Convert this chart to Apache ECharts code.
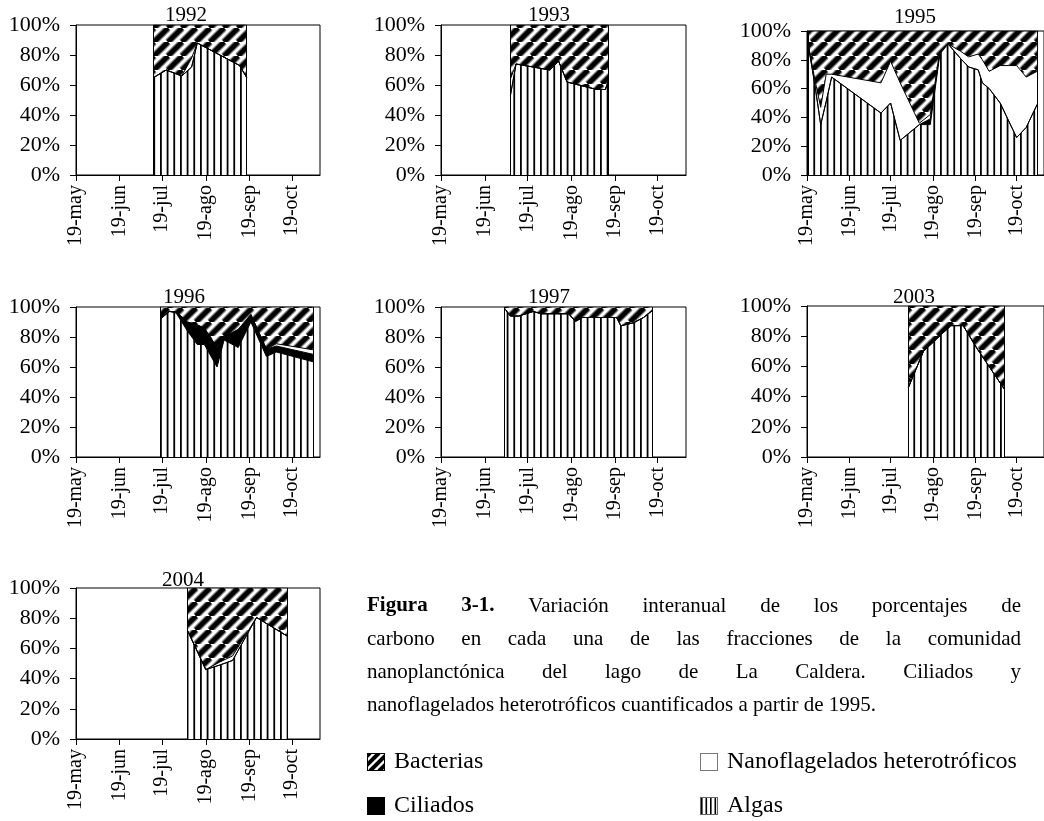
<!DOCTYPE html>
<html><head><meta charset="utf-8">
<script src="https://cdn.jsdelivr.net/npm/echarts@6/dist/echarts.min.js"></script>
<style>html,body{margin:0;padding:0;background:#fff}#c{width:1044px;height:821px}</style>
</head><body><div id="c"></div><script>
const FONT = '"Liberation Serif", "Times New Roman", serif';
const MONTHS = ['ene','feb','mar','abr','may','jun','jul','ago','sep','oct','nov','dic'];
const TICK_LABELS = ['19-may','19-jun','19-jul','19-ago','19-sep','19-oct'];
const AXIS_END = '11-08';
const NAMES = ['Algas','Ciliados','Nanoflagelados heterotróficos','Bacterias'];

// ---- data (percent of carbon) ----
const dates1992 = ['1992-07-13','1992-07-22','1992-08-02','1992-08-09','1992-08-13','1992-09-12','1992-09-17'];
const algas1992 = [65,70,66,72,88,73,65];
const cil1992   = [0,0,0,0,0,0,0];
const nano1992  = [0,0,0,6,0,0,0];
const bact1992  = [35,30,34,22,12,27,35];

const dates1993 = ['1993-07-07','1993-07-11','1993-08-04','1993-08-10','1993-08-16','1993-09-06','1993-09-12','1993-09-14'];
const algas1993 = [53,74,70,76,62,57,57,62];
const cil1993   = [0,0,0,0,0,0,0,0];
const nano1993  = [11,0,0,0,0,0,0,0];
const bact1993  = [36,26,30,24,38,43,43,38];

const dates1995 = ['1995-05-20','1995-05-25','1995-05-29','1995-06-02','1995-06-06','1995-07-12','1995-07-19','1995-07-26','1995-08-09','1995-08-17','1995-08-24','1995-08-30','1995-09-08','1995-09-14','1995-09-21','1995-09-24','1995-09-29','1995-10-07','1995-10-13','1995-10-19','1995-10-26','1995-11-03'];
const algas1995 = [90,61,35,51,68,43,50,24,35,35,84,91,81,75,73,64,60,50,38,26,33,49];
const cil1995   = [0,0,0,0,0,0,0,0,0,4,2,0,0,0,0,0,0,0,0,0,0,0];
const nano1995  = [0,4,12,19,2,21,29,40,1,3,0,0,5,7,11,16,12,26,38,50,35,23];
const bact1995  = [10,35,53,30,30,36,21,36,64,58,14,9,14,18,16,20,28,24,24,24,32,28];

const dates1996 = ['1996-07-18','1996-07-24','1996-07-29','1996-08-06','1996-08-13','1996-08-18','1996-08-27','1996-09-01','1996-09-11','1996-09-20','1996-10-01','1996-10-08','1996-11-03'];
const algas1996 = [92,97,96,84,75,75,60,78,73,90,67,70,63.5];
const cil1996   = [0,0,1,6,13,11,13,2,12,5,5,4,5];
const nano1996  = [0,0,0,0,0,0,0,0,0,0,0,1.5,3];
const bact1996  = [8,3,3,10,12,14,27,20,15,5,28,24.5,28.5];

const dates1997 = ['1997-07-03','1997-07-07','1997-07-13','1997-07-23','1997-07-29','1997-08-17','1997-08-22','1997-08-27','1997-09-20','1997-09-23','1997-10-02','1997-10-09','1997-10-15'];
const algas1997 = [99,94,94,97,95.5,95.5,90.5,93,93,87.5,89.5,93,97.5];
const cil1997   = [0,0,0,0,0,0,0,0,0,0,0,0,0];
const nano1997  = [0,0,0,0,0,0,0,0,0,0,0,0,0];
const bact1997  = [1,6,6,3,4.5,4.5,9.5,7,7,12.5,10.5,7,2.5];

const dates2003 = ['2003-08-01','2003-08-12','2003-09-01','2003-09-10','2003-09-20','2003-10-10'];
const algas2003 = [46,70,87,87,72,45];
const cil2003   = [0,0,0,0,0,0];
const nano2003  = [0,0,0,0,0,0];
const bact2003  = [54,30,13,13,28,55];

const dates2004 = ['2004-08-06','2004-08-19','2004-08-29','2004-09-07','2004-09-24','2004-10-16'];
const algas2004 = [72,46,49,52,80.5,68];
const cil2004   = [0,0,0,0,0,0];
const nano2004  = [0,0,2,3,0,0];
const bact2004  = [28,54,49,45,19.5,32];

const CAPTION_LINES = [
  'Figura 3-1. Variación interanual de los porcentajes de',
  'carbono en cada una de las fracciones de la comunidad',
  'nanoplanctónica del lago de La Caldera. Ciliados y',
  'nanoflagelados heterotróficos cuantificados a partir de 1995.'
];
const CAPTION_BOLD_WORDS = 2;
const LEGEND_ITEMS = ['Bacterias','Nanoflagelados heterotróficos','Ciliados','Algas'];

// ---- layout ----
const PANELS = [
  {year:1992, d:[dates1992,algas1992,cil1992,nano1992,bact1992], left:76,  top:25,  width:244, height:150},
  {year:1993, d:[dates1993,algas1993,cil1993,nano1993,bact1993], left:441, top:25,  width:245, height:150},
  {year:1995, d:[dates1995,algas1995,cil1995,nano1995,bact1995], left:807, top:31,  width:244, height:144},
  {year:1996, d:[dates1996,algas1996,cil1996,nano1996,bact1996], left:76,  top:307, width:244, height:150},
  {year:1997, d:[dates1997,algas1997,cil1997,nano1997,bact1997], left:441, top:307, width:245, height:150},
  {year:2003, d:[dates2003,algas2003,cil2003,nano2003,bact2003], left:807, top:306, width:244, height:151},
  {year:2004, d:[dates2004,algas2004,cil2004,nano2004,bact2004], left:76,  top:588, width:244, height:151}
];
const TITLE_POS = [[186,15],[549,15],[915,17],[184,297],[549,297],[914,297],[183,580]];

// ---- patterns ----
function hatchCanvas(size, lw) {
  const c = document.createElement('canvas'); c.width = size; c.height = size;
  const g = c.getContext('2d');
  g.fillStyle = '#fff'; g.fillRect(0,0,size,size);
  g.lineCap = 'butt';
  for (const [col, w] of [['#777', lw+2.5], ['#000', lw]]) {
    g.strokeStyle = col; g.lineWidth = w;
    for (const k of [-size, 0, size]) { g.beginPath(); g.moveTo(k, size); g.lineTo(k+size, 0); g.stroke(); }
  }
  return c;
}
function vlinesCanvas() {
  const c = document.createElement('canvas'); c.width = 20; c.height = 4;
  const g = c.getContext('2d');
  g.fillStyle = '#fff'; g.fillRect(0,0,20,4);
  g.fillStyle = '#000';
  for (const x of [0, 20/3, 40/3]) g.fillRect(x, 0, 1.8, 4);
  return c;
}
const patD = {image: hatchCanvas(14, 4.5), repeat: 'repeat'};
const patV = {image: vlinesCanvas(), repeat: 'repeat'};
const FILLS = [patV, '#000', '#fff', patD];

// day number since 19-May of the panel's year (x-axis scale value)
function dayOf(year, iso) {
  const [y, m, d] = iso.split('-').map(Number);
  return (Date.UTC(y, m-1, d) - Date.UTC(year, 4, 19)) / 86400000;
}
function tickIso(year, lab) {
  const [dd, mm] = lab.split('-');
  return year + '-' + String(MONTHS.indexOf(mm) + 1).padStart(2,'0') + '-' + dd;
}

const grids = [], xAxes = [], yAxes = [], series = [], graphics = [];
PANELS.forEach((p, i) => {
  grids.push({left:p.left, top:p.top, width:p.width, height:p.height, show:true, borderColor:'#000', borderWidth:1, backgroundColor:'transparent'});
  const ticks = TICK_LABELS.map(l => dayOf(p.year, tickIso(p.year, l)));
  xAxes.push({
    type:'value', gridIndex:i, min: 0, max: dayOf(p.year, p.year + '-' + AXIS_END),
    axisLine:{show:true, onZero:false, lineStyle:{color:'#000', width:1}},
    axisTick:{show:true, length:6, lineStyle:{color:'#000'}, customValues: ticks},
    axisLabel:{show:true, customValues: ticks, rotate:90, margin:10, color:'#000', fontFamily:FONT, fontSize:20,
      formatter: v => { const k = ticks.indexOf(v); return k >= 0 ? TICK_LABELS[k] : ''; }},
    splitLine:{show:false}, minorTick:{show:false}
  });
  yAxes.push({
    type:'value', gridIndex:i, min:0, max:100, interval:20,
    axisLine:{show:true, lineStyle:{color:'#000', width:1}},
    axisTick:{show:true, length:6, lineStyle:{color:'#000'}},
    axisLabel:{formatter:'{value}%', margin:16, color:'#000', fontFamily:FONT, fontSize:22},
    splitLine:{show:false}
  });
  const xs = p.d[0].map(dt => dayOf(p.year, dt));
  NAMES.forEach((name, k) => {
    const vals = p.d[k+1];
    const s = {
      type:'line', name, xAxisIndex:i, yAxisIndex:i, stack:'st'+i,
      // percentage first so that the stack is computed on the y dimension
      data: xs.map((x, j) => [vals[j], x]),
      encode: {x: 1, y: 0},
      symbol:'none', showSymbol:false, silent:true, animation:false,
      lineStyle:{color:'#000', width:1}, areaStyle:{color:FILLS[k], opacity:1}
    };
    if (k === 3) {
      s.markLine = {silent:true, symbol:['none','none'], animation:false, label:{show:false},
        lineStyle:{color:'#000', width:1, type:'solid'},
        data:[{xAxis: xs[0]}, {xAxis: xs[xs.length-1]}]};
    }
    series.push(s);
  });
  graphics.push({type:'text', x:TITLE_POS[i][0], y:TITLE_POS[i][1], z:100,
    style:{text:String(p.year), font:'21px ' + FONT, fill:'#000', align:'center', verticalAlign:'middle'}});
});

// ---- caption (justified) ----
const mctx = document.createElement('canvas').getContext('2d');
const CAP_L = 367, CAP_R = 1021, CAP_Y0 = 606, CAP_DY = 33, CAP_FS = 21, LEG_FS = 24;
let wordIdx = 0;
CAPTION_LINES.forEach((line, li) => {
  const words = line.split(' ');
  const fonts = words.map((w, wi) => ((wordIdx + wi) < CAPTION_BOLD_WORDS ? 'bold ' : '') + CAP_FS + 'px ' + FONT);
  wordIdx += words.length;
  const widths = words.map((w, wi) => { mctx.font = fonts[wi]; return mctx.measureText(w).width; });
  mctx.font = CAP_FS + 'px ' + FONT;
  const space = mctx.measureText(' ').width;
  const total = widths.reduce((a,b)=>a+b,0);
  const justified = li < CAPTION_LINES.length - 1;
  const gap = justified ? (CAP_R - CAP_L - total) / (words.length - 1) : space;
  let x = CAP_L;
  words.forEach((w, wi) => {
    graphics.push({type:'text', x, y: CAP_Y0 + li*CAP_DY, style:{text:w, font:fonts[wi], fill:'#000', align:'left', verticalAlign:'middle'}});
    x += widths[wi] + gap;
  });
});

// ---- legend ----
function iconCanvas(kind) {
  const s = 18, c = document.createElement('canvas'); c.width = s; c.height = s;
  const g = c.getContext('2d');
  g.fillStyle = '#fff'; g.fillRect(0,0,s,s);
  if (kind === 'Bacterias') {
    g.save(); g.beginPath(); g.rect(0.5,0.5,17,17); g.clip();
    g.strokeStyle = '#000'; g.lineWidth = 4;
    for (const k of [-6, 3, 12, 21]) { g.beginPath(); g.moveTo(k-9, 18); g.lineTo(k+9, 0); g.stroke(); }
    g.restore();
    g.strokeStyle = '#000'; g.lineWidth = 1; g.strokeRect(0.5,0.5,17,17);
  } else if (kind === 'Ciliados') {
    g.fillStyle = '#000'; g.fillRect(0,0,s,s);
  } else if (kind === 'Algas') {
    g.fillStyle = '#000';
    for (const x of [0, 4.5, 9, 13.5]) g.fillRect(x + 1, 0, 1.6, s);
    g.strokeStyle = '#666'; g.lineWidth = 1; g.strokeRect(0.5,0.5,17,17);
  } else {
    g.strokeStyle = '#777'; g.lineWidth = 1; g.strokeRect(0.5,0.5,17,17);
  }
  return c;
}
const LEG_POS = [[367,762],[700,762],[367,806],[700,806]];
LEGEND_ITEMS.forEach((name, i) => {
  const [x, y] = LEG_POS[i];
  graphics.push({type:'image', x, y: y-9, style:{image: iconCanvas(name), width:18, height:18}});
  graphics.push({type:'text', x: x + 27, y, style:{text:name, font: LEG_FS + 'px ' + FONT, fill:'#000', align:'left', verticalAlign:'middle'}});
});

const chart = echarts.init(document.getElementById('c'), null, {renderer:'canvas'});
chart.setOption({
  animation:false, backgroundColor:'#fff',
  grid: grids, xAxis: xAxes, yAxis: yAxes, series, graphic: graphics,
  textStyle:{fontFamily:FONT}
});
</script></body></html>
